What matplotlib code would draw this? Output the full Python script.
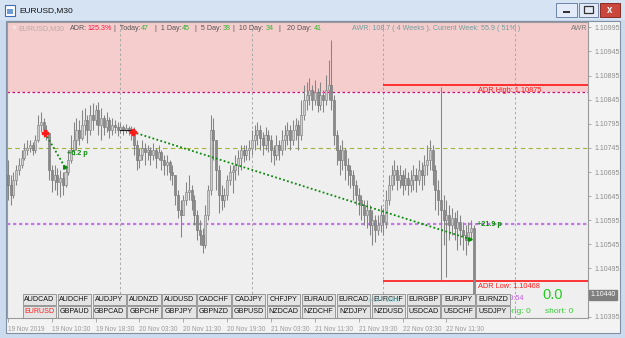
#!/usr/bin/env python3
"""EURUSD M30 terminal window (MT4 style) redrawn with matplotlib."""

import numpy as np
import matplotlib
matplotlib.use("Agg")
import matplotlib.pyplot as plt
from matplotlib.patches import Rectangle
from matplotlib.transforms import blended_transform_factory

W, H = 625, 338
plt.rcParams["font.family"] = ["Liberation Sans", "DejaVu Sans"]

# ---------------------------------------------------------------- data
first_open = 1.10689
closes = [
    1.10668, 1.10647, 1.10678, 1.10699, 1.10710, 1.10724, 1.10741, 1.10745, 1.10751, 1.10741,
    1.10761, 1.10792, 1.10799, 1.10782, 1.10776, 1.10699, 1.10678, 1.10689, 1.10674, 1.10683,
    1.10668, 1.10695, 1.10720, 1.10741, 1.10761, 1.10782, 1.10765, 1.10792, 1.10803, 1.10782,
    1.10813, 1.10803, 1.10824, 1.10792, 1.10807, 1.10788, 1.10803, 1.10782, 1.10792, 1.10788,
    1.10782, 1.10788, 1.10782, 1.10786, 1.10780, 1.10782, 1.10751, 1.10720, 1.10730, 1.10745,
    1.10736, 1.10741, 1.10730, 1.10741, 1.10724, 1.10736, 1.10720, 1.10710, 1.10716, 1.10695,
    1.10689, 1.10647, 1.10616, 1.10606, 1.10637, 1.10654, 1.10658, 1.10637, 1.10606, 1.10575,
    1.10564, 1.10544, 1.10606, 1.10658, 1.10782, 1.10761, 1.10699, 1.10647, 1.10637, 1.10647,
    1.10678, 1.10695, 1.10699, 1.10710, 1.10724, 1.10741, 1.10730, 1.10741, 1.10745, 1.10761,
    1.10772, 1.10782, 1.10765, 1.10751, 1.10772, 1.10761, 1.10741, 1.10730, 1.10751, 1.10741,
    1.10761, 1.10772, 1.10782, 1.10761, 1.10782, 1.10792, 1.10772, 1.10813, 1.10844, 1.10855,
    1.10865, 1.10844, 1.10861, 1.10834, 1.10855, 1.10844, 1.10865, 1.10875, 1.10844, 1.10772,
    1.10741, 1.10720, 1.10741, 1.10710, 1.10699, 1.10689, 1.10668, 1.10647, 1.10637, 1.10627,
    1.10606, 1.10616, 1.10585, 1.10596, 1.10575, 1.10585, 1.10606, 1.10591, 1.10637, 1.10668,
    1.10689, 1.10699, 1.10678, 1.10689, 1.10668, 1.10683, 1.10668, 1.10678, 1.10689, 1.10678,
    1.10699, 1.10689, 1.10710, 1.10720, 1.10741, 1.10699, 1.10658, 1.10637, 1.10616, 1.10596,
    1.10606, 1.10585, 1.10600, 1.10579, 1.10591, 1.10575, 1.10564, 1.10554, 1.10571, 1.10579,
    1.10440,
]
highs = [
    1.10720, 1.10689, 1.10695, 1.10710, 1.10724, 1.10741, 1.10755, 1.10761, 1.10761, 1.10757,
    1.10772, 1.10813, 1.10820, 1.10807, 1.10792, 1.10776, 1.10710, 1.10710, 1.10703, 1.10699,
    1.10695, 1.10710, 1.10741, 1.10772, 1.10799, 1.10807, 1.10803, 1.10824, 1.10828, 1.10813,
    1.10834, 1.10838, 1.10834, 1.10840, 1.10828, 1.10813, 1.10820, 1.10809, 1.10807, 1.10803,
    1.10799, 1.10797, 1.10792, 1.10795, 1.10790, 1.10790, 1.10788, 1.10761, 1.10745, 1.10761,
    1.10755, 1.10751, 1.10747, 1.10755, 1.10745, 1.10751, 1.10741, 1.10730, 1.10730, 1.10720,
    1.10710, 1.10689, 1.10658, 1.10637, 1.10647, 1.10674, 1.10689, 1.10668, 1.10647, 1.10616,
    1.10596, 1.10579, 1.10627, 1.10668, 1.10813, 1.10807, 1.10761, 1.10710, 1.10668, 1.10662,
    1.10689, 1.10710, 1.10710, 1.10730, 1.10741, 1.10751, 1.10751, 1.10751, 1.10761, 1.10782,
    1.10792, 1.10799, 1.10792, 1.10778, 1.10788, 1.10782, 1.10772, 1.10751, 1.10772, 1.10761,
    1.10782, 1.10792, 1.10799, 1.10792, 1.10803, 1.10807, 1.10803, 1.10844, 1.10875, 1.10882,
    1.10890, 1.10875, 1.10886, 1.10869, 1.10882, 1.10865, 1.10896, 1.10927, 1.10969, 1.10855,
    1.10782, 1.10751, 1.10761, 1.10745, 1.10724, 1.10710, 1.10699, 1.10678, 1.10662, 1.10647,
    1.10637, 1.10637, 1.10627, 1.10616, 1.10606, 1.10606, 1.10627, 1.10620, 1.10658, 1.10689,
    1.10710, 1.10720, 1.10710, 1.10710, 1.10699, 1.10703, 1.10695, 1.10699, 1.10710, 1.10703,
    1.10720, 1.10716, 1.10730, 1.10751, 1.10761, 1.10751, 1.10710, 1.10678, 1.10871, 1.10647,
    1.10637, 1.10627, 1.10620, 1.10612, 1.10616, 1.10606, 1.10591, 1.10585, 1.10591, 1.10596,
    1.10585,
]
lows = [
    1.10637, 1.10627, 1.10641, 1.10668, 1.10689, 1.10703, 1.10720, 1.10730, 1.10736, 1.10730,
    1.10734, 1.10757, 1.10778, 1.10768, 1.10761, 1.10678, 1.10654, 1.10658, 1.10647, 1.10643,
    1.10647, 1.10664, 1.10689, 1.10714, 1.10730, 1.10741, 1.10751, 1.10761, 1.10772, 1.10755,
    1.10772, 1.10782, 1.10792, 1.10772, 1.10761, 1.10772, 1.10778, 1.10765, 1.10772, 1.10776,
    1.10770, 1.10776, 1.10772, 1.10776, 1.10772, 1.10761, 1.10730, 1.10699, 1.10703, 1.10720,
    1.10710, 1.10720, 1.10710, 1.10720, 1.10703, 1.10720, 1.10699, 1.10689, 1.10689, 1.10678,
    1.10668, 1.10627, 1.10600, 1.10560, 1.10606, 1.10627, 1.10637, 1.10616, 1.10585, 1.10554,
    1.10544, 1.10527, 1.10537, 1.10596, 1.10647, 1.10720, 1.10658, 1.10610, 1.10616, 1.10622,
    1.10637, 1.10668, 1.10651, 1.10678, 1.10689, 1.10699, 1.10716, 1.10720, 1.10720, 1.10730,
    1.10741, 1.10751, 1.10741, 1.10730, 1.10741, 1.10736, 1.10716, 1.10710, 1.10720, 1.10720,
    1.10730, 1.10741, 1.10751, 1.10741, 1.10751, 1.10761, 1.10741, 1.10761, 1.10803, 1.10824,
    1.10834, 1.10824, 1.10834, 1.10820, 1.10824, 1.10820, 1.10834, 1.10844, 1.10824, 1.10751,
    1.10710, 1.10689, 1.10699, 1.10678, 1.10668, 1.10662, 1.10637, 1.10627, 1.10606, 1.10596,
    1.10585, 1.10579, 1.10564, 1.10544, 1.10550, 1.10564, 1.10571, 1.10564, 1.10579, 1.10627,
    1.10658, 1.10668, 1.10658, 1.10662, 1.10647, 1.10658, 1.10647, 1.10654, 1.10658, 1.10654,
    1.10668, 1.10658, 1.10668, 1.10689, 1.10699, 1.10668, 1.10616, 1.10606, 1.10471, 1.10544,
    1.10478, 1.10554, 1.10564, 1.10554, 1.10533, 1.10544, 1.10533, 1.10523, 1.10544, 1.10554,
    1.10434,
]

time_ticks = [0, 16, 32, 48, 64, 80, 96, 112, 128, 144, 160]
time_labels = ["19 Nov 2019", "19 Nov 10:30", "19 Nov 18:30", "20 Nov 03:30",
               "20 Nov 11:30", "20 Nov 19:30", "21 Nov 03:30", "21 Nov 11:30",
               "21 Nov 19:30", "22 Nov 03:30", "22 Nov 11:30"]
day_breaks = [41, 89, 137, 185]
price_ticks = [1.10995, 1.10945, 1.10895, 1.10845, 1.10795, 1.10745, 1.10695,
               1.10645, 1.10595, 1.10545, 1.10495, 1.10395]

current_price = 1.10440
adr_high, adr_low, adr_start = 1.10875, 1.10468, 137
level_magenta = 1.10861
level_olive = 1.10745
level_purple = 1.10587

trade1_x, trade1_y = [13.5, 20.8], [1.10776, 1.10705]
trade2_x, trade2_y = [45.5, 168.6], [1.10778, 1.10556]
trade1_label, trade2_label = "+6.2 p", "+21.9 p"

header = [  # (pixel x, text, colour)
    (11, "\u25bc", "#f4e4e4"), (18, "EURUSD,M30", "#b9a9a9"),
    (70, "ADR:", "#555555"), (87, "125.3%", "#ff1744"),
    (114, "|  Today:", "#555555"), (141, "47", "#2db52d"),
    (155, "|  1 Day:", "#555555"), (182, "45", "#2db52d"),
    (195, "|  5 Day:", "#555555"), (222.5, "38", "#2db52d"),
    (233, "|  10 Day:", "#555555"), (265.5, "34", "#2db52d"),
    (278, "|", "#555555"), (287, "20 Day:", "#555555"), (314, "41", "#2db52d"),
    (352, "AWR: 108.7 ( 4 Weeks ), Current Week: 55.9 ( 51% )", "#6f9d9d"),
]
row1 = ["AUDCAD", "AUDCHF", "AUDJPY", "AUDNZD", "AUDUSD", "CADCHF", "CADJPY",
        "CHFJPY", "EURAUD", "EURCAD", "EURCHF", "EURGBP", "EURJPY", "EURNZD"]
row2 = ["EURUSD", "GBPAUD", "GBPCAD", "GBPCHF", "GBPJPY", "GBPNZD", "GBPUSD",
        "NZDCAD", "NZDCHF", "NZDJPY", "NZDUSD", "USDCAD", "USDCHF", "USDJPY"]


def frac(x, y):
    return x / W, 1 - y / H


def rect(fig, x0, y0, x1, y1, z=1, **kw):
    fig.add_artist(Rectangle((x0 / W, 1 - y1 / H), (x1 - x0) / W, (y1 - y0) / H,
                             transform=fig.transFigure, zorder=z, **kw))


def label(fig, x, y, s, z=5, **kw):
    kw.setdefault("va", "center")
    fig.text(*frac(x, y), s, zorder=z, **kw)


def draw_window(fig):
    # title bar
    rect(fig, 0, 0, W, 20, fc="#d6e3f3", ec="none")
    rect(fig, 5, 5, 15, 16, fc="white", ec="#3d6db3", lw=0.8)
    rect(fig, 7, 9, 13, 14, fc="#6f9bd6", ec="none")
    label(fig, 19, 11, "EURUSD,M30", fontsize=6, color="#111111")
    rect(fig, 556, 3, 577, 17, fc="#e2ebf7", ec="#6d84a8", lw=0.7)
    rect(fig, 563, 11, 570, 13, fc="#333333", ec="none")
    rect(fig, 579, 3, 598, 17, fc="#e2ebf7", ec="#6d84a8", lw=0.7)
    rect(fig, 584, 6, 593, 13, fc="none", ec="#333333", lw=0.9)
    rect(fig, 600, 3, 620, 17, fc="#c9473d", ec="#8b2b25", lw=0.7)
    label(fig, 610, 10, "x", fontsize=7, color="white", ha="center",
          fontweight="bold")
    # chart panel
    rect(fig, 6, 21, 620, 333, z=0.5, fc="#f3f3f3", ec="#8290a4", lw=0.8)


def draw_buttons(fig):
    for r, names in enumerate([row1, row2]):
        y0 = 293.5 + r * 12.3
        for i, name in enumerate(names):
            x0 = 22.7 + i * 34.9
            rect(fig, x0, y0, x0 + 33.4, y0 + 11.8, z=4, fc="#e4e4e4",
                 ec="#8c8c8c", lw=0.6)
            colour = "#ff1f1f" if name == "EURUSD" else "#111111"
            label(fig, x0 + 16.7, y0 + 6, name, z=5, fontsize=5.1,
                  color=colour, ha="center")


def main():
    fig = plt.figure(figsize=(W / 100, H / 100), dpi=100, facecolor="#cddbee")
    draw_window(fig)

    ax = fig.add_axes([7 / W, 1 - 318 / H, 581 / W, 296 / H], zorder=2)
    ax.set_facecolor("#efefef")
    ax.set_xlim(-0.36, 211.7)
    ax.set_ylim(1.103923, 1.110060)

    # zones and levels
    ax.axhspan(level_magenta, 1.12, color="#f6cdcd", lw=0, zorder=0)
    for b in day_breaks:
        ax.axvline(b, color="#a8a8a8", lw=0.7, ls=(0, (2.5, 2.5)), zorder=1)
    ax.axhline(level_magenta, color="#d4097f", lw=0.9, ls=(0, (2, 2)), zorder=2)
    ax.axhline(level_olive, color="#a9b23a", lw=0.8, ls=(0, (4, 3)), zorder=2)
    ax.axhline(level_purple, color="#c47ae6", lw=1.6, ls=(0, (1.5, 1.2)), zorder=2)
    ax.hlines([adr_high, adr_low], adr_start, 212, color="#ff1414", lw=1.2, zorder=2)

    # candles
    c = np.array(closes)
    o = np.r_[first_open, c[:-1]]
    hi = np.maximum(np.array(highs), np.maximum(o, c))
    lo = np.minimum(np.array(lows), np.minimum(o, c))
    idx = np.arange(len(c))
    up = c >= o
    ax.vlines(idx, lo, hi, color="#858585", lw=0.75, zorder=3)
    bot = np.minimum(o, c)
    hgt = np.maximum(np.abs(c - o), 0.00002)
    ax.bar(idx[up], hgt[up], bottom=bot[up], width=0.75, color="#cdcdcd",
           edgecolor="#858585", lw=0.45, zorder=4)
    ax.bar(idx[~up], hgt[~up], bottom=bot[~up], width=0.75, color="#8a8a8a",
           edgecolor="#787878", lw=0.45, zorder=4)

    # trades
    for tx, ty in [(trade1_x, trade1_y), (trade2_x, trade2_y)]:
        ax.plot(tx, ty, color="#0a8a0a", lw=1.3, ls=(0, (1, 1.3)), zorder=5)
        ax.plot(tx[0], ty[0], marker="P", ms=4, color="#ff1a1a", mec="#ff1a1a",
                zorder=6)
        ax.plot(tx[1], ty[1], marker=">", ms=2.6, color="#0a8a0a", zorder=6)
    ax.plot([41, 45.5], [1.10782, 1.10782], color="#202020", lw=0.8, zorder=5)
    ax.text(21.6, 1.10734, trade1_label, color="#0c8c0c", fontsize=5.2,
            fontweight="bold", va="center", zorder=6)
    ax.text(171.2, level_purple, trade2_label, color="#0c8c0c", fontsize=5.2,
            fontweight="bold", va="center", zorder=6)
    ax.text(171.5, 1.10865, f"ADR High: {adr_high:.5f}", color="#ff1a1a",
            fontsize=5.3, va="center", zorder=6)
    ax.text(171.5, 1.10457, f"ADR Low: {adr_low:.5f}", color="#ff1a1a",
            fontsize=5.3, va="center", zorder=6)
    ax.text(0.999, 0.978, "AWR", transform=ax.transAxes, color="#7a7a7a",
            fontsize=5.1, va="center", ha="right", zorder=6)

    # axes
    for sp in ax.spines.values():
        sp.set_color("#9a9a9a")
        sp.set_linewidth(0.8)
    ax.set_xticks(time_ticks)
    ax.set_xticklabels(time_labels, ha="left")
    ax.tick_params(axis="x", length=3, width=0.6, color="#a0a0a0",
                   labelcolor="#9a9a9a", labelsize=4.7, pad=2.5)
    ax.yaxis.tick_right()
    ax.set_yticks(price_ticks)
    ax.set_yticklabels([f"{p:.5f}" for p in price_ticks])
    ax.tick_params(axis="y", length=2.5, width=0.6, color="#a0a0a0",
                   labelcolor="#8e8e8e", labelsize=5, pad=2)
    ax.text(1.004, current_price, f"{current_price:.5f}", color="white",
            fontsize=5, va="center", ha="left", zorder=7, clip_on=False,
            transform=blended_transform_factory(ax.transAxes, ax.transData),
            bbox=dict(boxstyle="square,pad=0.25", fc="#7f7f7f", ec="#7f7f7f"))

    # header line
    for x, s, col in header:
        label(fig, x, 28.5, s, fontsize=5.1, color=col)

    # panel text partly hidden under the buttons
    label(fig, 500, 299, "0:29:54", z=3, fontsize=5.3, color="#c25fe0")
    label(fig, 505, 311.5, "long: 0", z=3, fontsize=6, color="#33cc33")
    label(fig, 545, 311.5, "short: 0", z=3, fontsize=6, color="#33cc33")
    label(fig, 542, 295, "0.0", z=3, fontsize=10.5, color="#22cc22")
    draw_buttons(fig)
    label(fig, 368, 300, "ADR Shift", z=6, fontsize=5, color="#8fcfcf",
          alpha=0.8)

    fig.savefig("out.png", dpi=100, facecolor=fig.get_facecolor())
    plt.close(fig)


if __name__ == "__main__":
    main()
